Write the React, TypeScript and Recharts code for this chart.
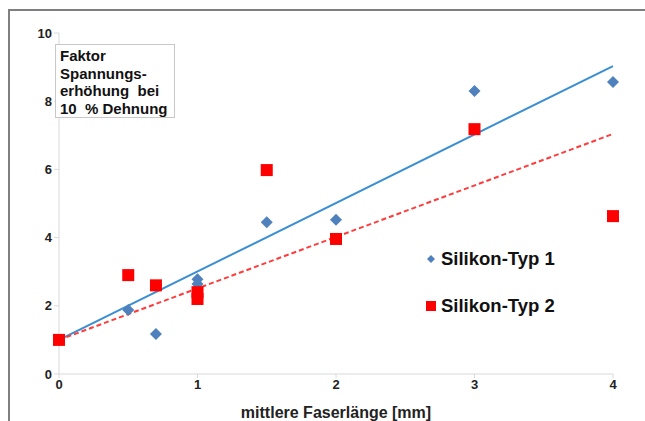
import { ScatterChart, Scatter, XAxis, YAxis, Label } from 'recharts';

const typ1 = [
  { x: 0, y: 1 },
  { x: 0.5, y: 1.88 },
  { x: 0.7, y: 1.17 },
  { x: 1, y: 2.78 },
  { x: 1, y: 2.64 },
  { x: 1.5, y: 4.45 },
  { x: 2, y: 4.52 },
  { x: 3, y: 8.3 },
  { x: 4, y: 8.56 },
];

const typ2 = [
  { x: 0, y: 1 },
  { x: 0.5, y: 2.9 },
  { x: 0.7, y: 2.6 },
  { x: 1, y: 2.4 },
  { x: 1, y: 2.2 },
  { x: 1.5, y: 5.98 },
  { x: 2, y: 3.96 },
  { x: 3, y: 7.18 },
  { x: 4, y: 4.63 },
];

// Trendlinien
const trend1 = [
  { x: 0, y: 1 },
  { x: 4, y: 9.03 },
];
const trend2 = [
  { x: 0, y: 1 },
  { x: 4, y: 7.04 },
];

const xTicks = [0, 1, 2, 3, 4];
const yTicks = [0, 2, 4, 6, 8, 10];

const BLUE = '#4f81bd';
const RED = '#ff0000';

const Diamond = (props: any) => {
  const { cx, cy } = props;
  const r = 6;
  return <path d={`M${cx},${cy - r}L${cx + r},${cy}L${cx},${cy + r}L${cx - r},${cy}Z`} fill={BLUE} />;
};

const Square = (props: any) => {
  const { cx, cy } = props;
  const s = 12;
  return <rect x={cx - s / 2} y={cy - s / 2} width={s} height={s} fill={RED} />;
};

const Empty = () => <g />;

const tickStyle = { fontSize: 13, fontWeight: 'bold', fill: '#222' };

export default function App() {
  return (
    <div style={{ position: 'absolute', left: 0, top: 0, width: 645, height: 421, overflow: 'hidden', background: '#fff', fontFamily: 'Arial, "Liberation Sans", sans-serif' }}>
      <div style={{ position: 'absolute', left: 8, top: 9, width: 700, height: 500, borderLeft: '2px solid #7f7f7f', borderTop: '2px solid #7f7f7f' }} />
      <div style={{ position: 'absolute', left: 0, top: 0 }}>
        <ScatterChart width={645} height={421} margin={{ top: 33, right: 32, left: 19, bottom: 1 }}>
          <XAxis
            type="number"
            dataKey="x"
            domain={[0, 4]}
            ticks={xTicks}
            stroke="#d9d9d9"
            tickLine={{ stroke: '#d9d9d9' }}
            tickSize={4}
            tick={tickStyle}
            height={46}
          >
            <Label value="mittlere Faserlänge [mm]" position="insideBottom" offset={2} style={{ fontSize: 16, fontWeight: 'bold', fill: '#222' }} />
          </XAxis>
          <YAxis
            type="number"
            dataKey="y"
            domain={[0, 10]}
            ticks={yTicks}
            stroke="#d9d9d9"
            tickLine={{ stroke: '#d9d9d9' }}
            tickSize={5}
            tick={tickStyle}
            width={40}
          />
          <Scatter data={trend1} line={{ stroke: '#3a8fd3', strokeWidth: 2 }} shape={Empty} legendType="none" isAnimationActive={false} />
          <Scatter data={trend2} line={{ stroke: '#ff3b3b', strokeWidth: 2, strokeDasharray: '5 3' }} shape={Empty} legendType="none" isAnimationActive={false} />
          <Scatter name="Silikon-Typ 1" data={typ1} shape={Diamond} isAnimationActive={false} />
          <Scatter name="Silikon-Typ 2" data={typ2} shape={Square} isAnimationActive={false} />
        </ScatterChart>
      </div>
      <div style={{ position: 'absolute', left: 55, top: 44, width: 120, height: 74, background: '#fff', border: '1px solid #c8c8c8', boxSizing: 'border-box', padding: '2px 0 0 4px', fontSize: 15, fontWeight: 'bold', lineHeight: '17.5px', color: '#111', whiteSpace: 'pre' }}>
        {'Faktor\nSpannungs-\nerhöhung  bei\n10  % Dehnung'}
      </div>
      <div style={{ position: 'absolute', left: 424, top: 248, fontSize: 18.5, fontWeight: 'bold', color: '#111', lineHeight: '22px' }}>
        <div style={{ display: 'flex', alignItems: 'center' }}>
          <svg width={14} height={14} style={{ marginRight: 3 }}><path d="M7,3L11,7L7,11L3,7Z" fill={BLUE} /></svg>
          Silikon-Typ 1
        </div>
        <div style={{ display: 'flex', alignItems: 'center', marginTop: 25 }}>
          <svg width={14} height={14} style={{ marginRight: 3 }}><rect x={2} y={2} width={10} height={10} fill={RED} /></svg>
          Silikon-Typ 2
        </div>
      </div>
    </div>
  );
}
